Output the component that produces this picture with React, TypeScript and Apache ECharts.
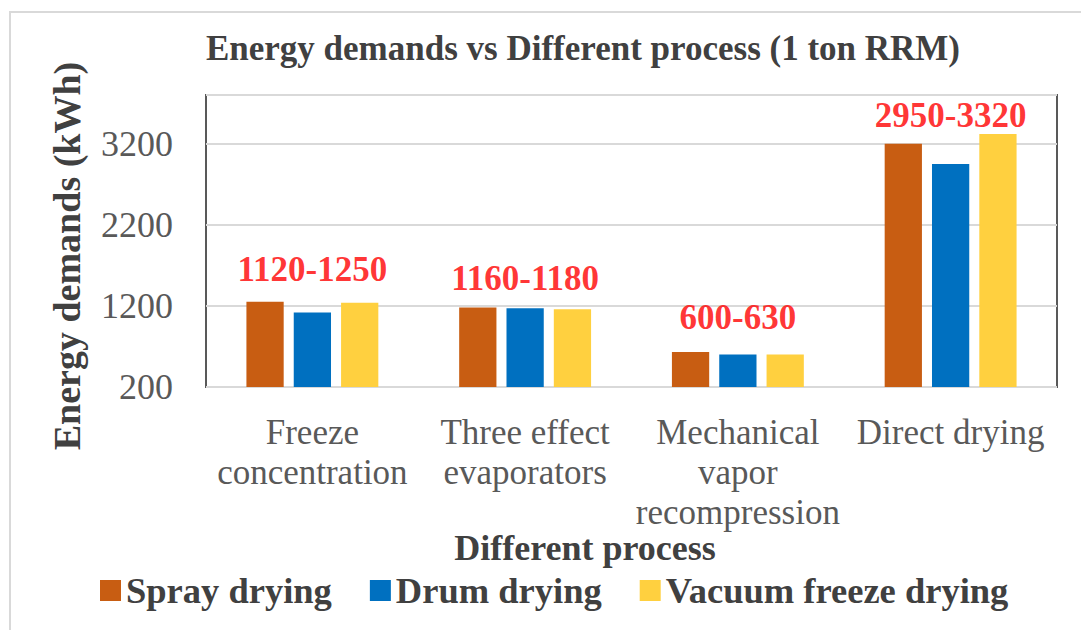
import React, { useEffect, useRef } from "react";
import * as echarts from "echarts";

const categories = [
  "Freeze\nconcentration",
  "Three effect\nevaporators",
  "Mechanical\nvapor\nrecompression",
  "Direct drying",
];
const seriesNames = ["Spray drying", "Drum drying", "Vacuum freeze drying"];
const sprayDrying = [1250, 1180, 630, 3200];
const drumDrying = [1120, 1170, 600, 2950];
const vacuumFreezeDrying = [1240, 1160, 600, 3320];
const yMin = 200;
const yMax = 3800;
const yInterval = 1000;

const chartTitle = "Energy demands vs Different process (1 ton RRM)";
const yAxisTitle = "Energy demands (kWh)";
const xAxisTitle = "Different process";

const FONT = "'Liberation Serif', 'Times New Roman', serif";
const colors = ["#C85D12", "#0070C0", "#FFD03F"];

export default function App() {
  const ref = useRef<HTMLDivElement>(null);

  useEffect(() => {
    if (!ref.current) return;
    const chart = echarts.init(ref.current, undefined, { renderer: "svg" });
    const all = [sprayDrying, drumDrying, vacuumFreezeDrying];
    const maxVals = categories.map((_, i) => Math.max(...all.map((s) => s[i])));
    const minVals = categories.map((_, i) => Math.min(...all.map((s) => s[i])));
    const labelLift = [14, 11, 17, 0];

    const option: any = {
      animation: false,
      backgroundColor: "#ffffff",
      color: colors,
      grid: {
        left: 206,
        right: 24,
        top: 95,
        bottom: 243,
        show: true,
        borderColor: "#595959",
        borderWidth: 2,
        containLabel: false,
      },
      xAxis: {
        type: "category",
        data: categories,
        axisLine: { show: false },
        axisTick: { show: false },
        axisLabel: {
          interval: 0,
          margin: 25,
          fontFamily: FONT,
          fontSize: 35,
          lineHeight: 40,
          color: "#595959",
        },
      },
      yAxis: {
        type: "value",
        min: yMin,
        max: yMax,
        interval: yInterval,
        axisLine: { show: false },
        axisTick: { show: false },
        splitLine: { lineStyle: { color: "#d9d9d9", width: 2 } },
        axisLabel: {
          showMaxLabel: false,
          margin: 33,
          fontFamily: FONT,
          fontSize: 36,
          color: "#595959",
          formatter: (v: number) => String(v),
        },
      },
      legend: {
        data: seriesNames,
        left: 100,
        top: 572,
        padding: 0,
        itemWidth: 21,
        itemHeight: 21,
        itemGap: 38,
        icon: "rect",
        textStyle: {
          fontFamily: FONT,
          fontSize: 36.5,
          fontWeight: "bold",
          color: "#404040",
        },
      },
      series: [
        ...[sprayDrying, drumDrying, vacuumFreezeDrying].map((d, k) => ({
          type: "bar",
          name: seriesNames[k],
          data: d,
          barGap: "27%",
          barCategoryGap: "38%",
          itemStyle: { color: colors[k] },
        })),
        {
          type: "scatter",
          name: "range",
          symbolSize: 1,
          itemStyle: { color: "rgba(0,0,0,0)" },
          silent: true,
          data: maxVals.map((v, i) => ({
            value: v,
            label: { distance: labelLift[i] },
          })),
          label: {
            show: true,
            position: "top",
            color: "#FF0000",
            fontFamily: FONT,
            fontSize: 35,
            fontWeight: "bold",
            formatter: (p: any) => `${minVals[p.dataIndex]}-${maxVals[p.dataIndex]}`,
          },
        },
      ],
      graphic: [
        {
          type: "rect",
          shape: { x: 10, y: 12, width: 1200, height: 800 },
          style: { fill: "none", stroke: "#d9d9d9", lineWidth: 2 },
          silent: true,
        },
        {
          type: "text",
          x: 583,
          y: 48,
          style: {
            text: chartTitle,
            fontFamily: FONT,
            fontSize: 35,
            fontWeight: "bold",
            fill: "#404040",
            align: "center",
            verticalAlign: "middle",
          },
        },
        {
          type: "text",
          x: 67,
          y: 256,
          rotation: Math.PI / 2,
          style: {
            text: yAxisTitle,
            fontFamily: FONT,
            fontSize: 38,
            fontWeight: "bold",
            fill: "#404040",
            align: "center",
            verticalAlign: "middle",
          },
        },
        {
          type: "text",
          x: 585,
          y: 548,
          style: {
            text: xAxisTitle,
            fontFamily: FONT,
            fontSize: 36,
            fontWeight: "bold",
            fill: "#404040",
            align: "center",
            verticalAlign: "middle",
          },
        },
      ],
    };
    chart.setOption(option);
    return () => chart.dispose();
  }, []);

  return (
    <div
      ref={ref}
      style={{ position: "fixed", left: 0, top: 0, width: 1081, height: 630, background: "#fff" }}
    />
  );
}
